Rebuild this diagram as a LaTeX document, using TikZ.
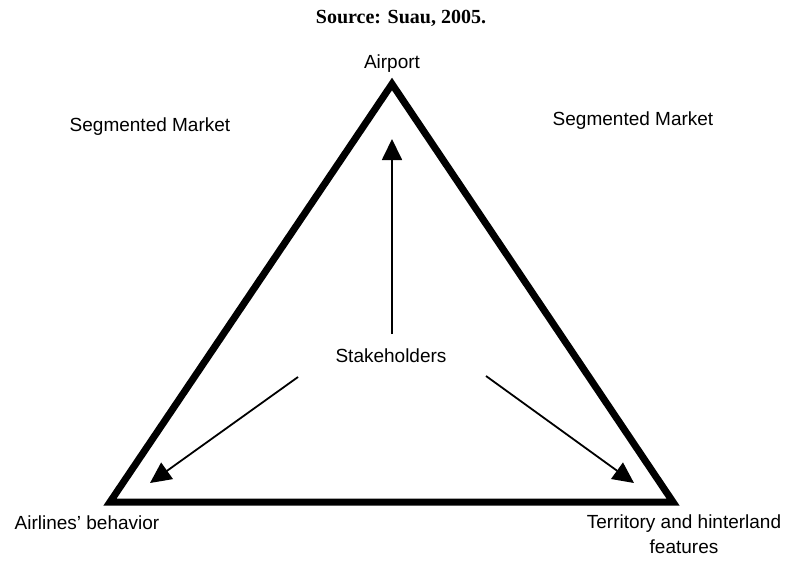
\documentclass[tikz,border=0pt]{standalone}
\usepackage{fontspec}
\setmainfont{Liberation Sans}
\newfontfamily\srcfont{Liberation Serif}
\usetikzlibrary{arrows.meta}
\begin{document}
\begin{tikzpicture}[x=1pt,y=-1pt,
  lbl/.style={inner sep=0pt,font=\fontsize{19}{25}\selectfont,align=center},
  tri/.style={line width=7pt,line join=miter},
  arr/.style={line width=1.8pt,-{Triangle[length=21pt,width=20pt]}}]
\useasboundingbox (0,0) rectangle (789,562);
% triangle
\coordinate (top) at (392,84);
\coordinate (bl) at (110,502);
\coordinate (br) at (673,502);
\draw[tri] (top) -- (bl) -- (br) -- cycle;
% texts
\node[inner sep=0pt,font=\srcfont\bfseries\fontsize{20}{24}\selectfont] (src) at (401,18) {Source: Suau, 2005.};
\node[lbl] (airport) at (392,64) {Airport};
\node[lbl] (segl) at (150,127) {Segmented Market};
\node[lbl] (segr) at (633,121) {Segmented Market};
\node[lbl] (sh) at (391,356) {Stakeholders};
\node[lbl] (air) at (87,523) {Airlines’ behavior};
\node[lbl] (terr) at (684,534) {Territory and hinterland\\features};
% arrows
\coordinate (s1) at (392,334);
\coordinate (e1) at (392,139);
\coordinate (s2) at (298,377);
\coordinate (e2) at (150,483);
\coordinate (s3) at (486,376);
\coordinate (e3) at (634,483);
\draw[arr] (s1) -- (e1);
\draw[arr] (s2) -- (e2);
\draw[arr] (s3) -- (e3);
\end{tikzpicture}
\end{document}
